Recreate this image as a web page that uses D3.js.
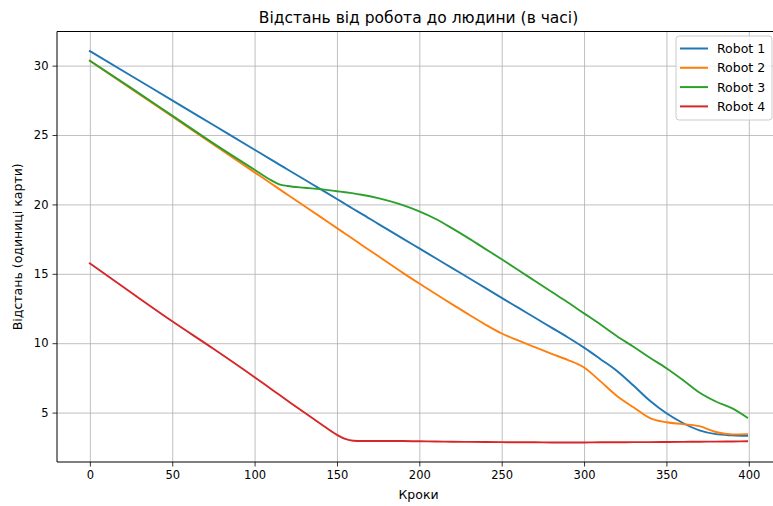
<html>
<meta charset="UTF-8">
<head>
    <script src="https://d3js.org/d3.v7.min.js"></script>
    <style>
        body { margin: 0; background: white; }
        text { font-family: "DejaVu Sans", sans-serif; fill: #000; }
        .gridLines line { stroke: #b0b0b0; stroke-width: 0.8; }
        .gridLines .domain { stroke: none; }
    </style>
</head>
<body>
    <svg id="graph" width="773" height="506"></svg>
</body>
<script>
    // values
    const steps  = [0, 25, 50, 75, 100, 110, 115, 120, 130, 140, 150, 155, 160, 165, 175, 190, 200, 210, 220, 230, 240, 250, 260, 270, 280, 290, 300, 310, 320, 330, 340, 350, 360, 370, 380, 390, 399];
    const robot1 = [31.05, 29.27, 27.5, 25.72, 23.94, 23.23, 22.87, 22.52, 21.81, 21.1, 20.39, 20.03, 19.67, 19.32, 18.6, 17.54, 16.83, 16.12, 15.41, 14.7, 13.99, 13.27, 12.56, 11.85, 11.14, 10.43, 9.68, 8.85, 8.0, 6.95, 5.85, 4.95, 4.25, 3.72, 3.45, 3.36, 3.32];
    const robot2 = [30.35, 28.34, 26.33, 24.32, 22.31, 21.51, 21.1, 20.7, 19.9, 19.1, 18.29, 17.89, 17.49, 17.08, 16.28, 15.07, 14.3, 13.55, 12.8, 12.07, 11.35, 10.7, 10.2, 9.72, 9.25, 8.8, 8.25, 7.25, 6.2, 5.38, 4.6, 4.3, 4.17, 4.02, 3.6, 3.43, 3.45];
    const robot3 = [30.35, 28.4, 26.4, 24.4, 22.5, 21.75, 21.45, 21.33, 21.2, 21.1, 20.95, 20.88, 20.8, 20.7, 20.45, 19.95, 19.5, 18.95, 18.27, 17.55, 16.8, 16.05, 15.28, 14.5, 13.72, 12.95, 12.15, 11.35, 10.5, 9.75, 8.95, 8.2, 7.35, 6.45, 5.8, 5.3, 4.64];
    const robot4 = [15.75, 13.65, 11.58, 9.6, 7.55, 6.7, 6.28, 5.85, 5.02, 4.2, 3.4, 3.1, 2.97, 2.95, 2.95, 2.95, 2.93, 2.92, 2.9, 2.89, 2.88, 2.87, 2.86, 2.86, 2.85, 2.85, 2.85, 2.86, 2.86, 2.87, 2.87, 2.88, 2.89, 2.9, 2.91, 2.92, 2.93];
    const seriesNames = ["Robot 1", "Robot 2", "Robot 3", "Robot 4"];
    const colors = ["#1f77b4", "#ff7f0e", "#2ca02c", "#d62728"];
    const xTicks = [0, 50, 100, 150, 200, 250, 300, 350, 400];
    const yTicks = [5, 10, 15, 20, 25, 30];
    const title = "Відстань від робота до людини (в часі)";
    const xLabel = "Кроки";
    const yLabel = "Відстань (одиниці карти)";

    const g = d3.select("svg#graph");
    const margin = {top: 31.5, left: 57, right: 780, bottom: 462};
    const chartWidth = margin.right - margin.left;
    const chartHeight = margin.bottom - margin.top;

    const series = [robot1, robot2, robot3, robot4].map((vals, i) => ({
        name: seriesNames[i],
        color: colors[i],
        points: steps.map((s, j) => ({x: s, y: vals[j]}))
    }));

    // matplotlib style 5% margins
    const xMin = d3.min(steps), xMax = d3.max(steps);
    const allY = [].concat(robot1, robot2, robot3, robot4);
    const yMin = d3.min(allY), yMax = d3.max(allY);
    const xPad = (xMax - xMin) * 0.05, yPad = (yMax - yMin) * 0.05;

    const xScale = d3.scaleLinear().domain([xMin - xPad, xMax + xPad]).range([0, chartWidth]);
    const yScale = d3.scaleLinear().domain([yMin - yPad, yMax + yPad]).range([chartHeight, 0]);

    let annotations = g.append("g").attr("id", "annotations");
    let chartArea = g.append("g").attr("id", "lines")
        .attr("transform", `translate(${margin.left},${margin.top})`);

    // grid
    annotations.append("g")
        .attr("class", "x gridLines")
        .attr("transform", `translate(${margin.left},${margin.bottom})`)
        .call(d3.axisBottom(xScale).tickValues(xTicks).tickSize(-chartHeight).tickFormat(""));
    annotations.append("g")
        .attr("class", "y gridLines")
        .attr("transform", `translate(${margin.left},${margin.top})`)
        .call(d3.axisLeft(yScale).tickValues(yTicks).tickSize(-chartWidth).tickFormat(""));

    // lines
    const line = d3.line()
        .x(d => xScale(d.x))
        .y(d => yScale(d.y))
        .curve(d3.curveMonotoneX);
    chartArea.selectAll("path.series")
        .data(series)
        .join("path")
        .attr("class", "series")
        .attr("fill", "none")
        .attr("stroke", d => d.color)
        .attr("stroke-width", 1.9)
        .attr("stroke-linejoin", "round")
        .attr("stroke-linecap", "square")
        .attr("d", d => line(d.points));

    // axes
    let bottomAxis = d3.axisBottom(xScale).tickValues(xTicks).tickSizeOuter(0).tickSize(4.5).tickPadding(4);
    let leftAxis = d3.axisLeft(yScale).tickValues(yTicks).tickSizeOuter(0).tickSize(4.5).tickPadding(4);
    const xAx = g.append("g")
        .attr("transform", `translate(${margin.left},${margin.bottom})`)
        .call(bottomAxis);
    const yAx = g.append("g")
        .attr("transform", `translate(${margin.left},${margin.top})`)
        .call(leftAxis);
    [xAx, yAx].forEach(a => {
        a.selectAll(".domain").remove();
        a.selectAll(".tick line").attr("stroke", "#000").attr("stroke-width", 0.8);
        a.selectAll(".tick text").attr("font-size", "11.5px").attr("font-family", "DejaVu Sans");
    });

    // spines
    g.append("line").attr("x1", margin.left).attr("x2", margin.left)
        .attr("y1", margin.top).attr("y2", margin.bottom).attr("stroke", "#000").attr("stroke-width", 1);
    g.append("line").attr("x1", margin.left).attr("x2", margin.right)
        .attr("y1", margin.bottom).attr("y2", margin.bottom).attr("stroke", "#000").attr("stroke-width", 1);
    g.append("line").attr("x1", margin.left).attr("x2", margin.right)
        .attr("y1", margin.top).attr("y2", margin.top).attr("stroke", "#000").attr("stroke-width", 1);

    // labels
    const centerX = margin.left + chartWidth / 2;
    g.append("text")
        .attr("x", centerX).attr("y", 23)
        .attr("text-anchor", "middle")
        .attr("font-size", "15.5px")
        .text(title);
    g.append("text")
        .attr("x", centerX).attr("y", 499)
        .attr("text-anchor", "middle")
        .attr("font-size", "12.5px")
        .text(xLabel);
    g.append("text")
        .attr("transform", `translate(22,${margin.top + chartHeight / 2}) rotate(-90)`)
        .attr("text-anchor", "middle")
        .attr("font-size", "12.5px")
        .text(yLabel);

    // legend
    const legend = g.append("g").attr("transform", `translate(${margin.right - 104},36)`);
    legend.append("rect")
        .attr("x", 0).attr("y", 0)
        .attr("width", 96).attr("height", 84)
        .attr("rx", 3)
        .attr("fill", "white").attr("fill-opacity", 0.8)
        .attr("stroke", "#cccccc").attr("stroke-width", 1);
    const rows = legend.selectAll("g.entry")
        .data(series)
        .join("g")
        .attr("class", "entry")
        .attr("transform", (d, i) => `translate(0,${12.5 + i * 19.3})`);
    rows.append("line")
        .attr("x1", 4).attr("x2", 32)
        .attr("stroke", d => d.color).attr("stroke-width", 2);
    rows.append("text")
        .attr("x", 41).attr("y", 4.5)
        .attr("font-size", "12.5px")
        .text(d => d.name);
</script>
</html>
